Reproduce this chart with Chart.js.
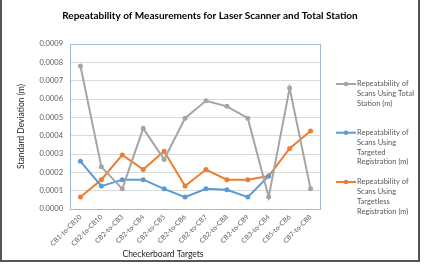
<!DOCTYPE html>
<html>
<head>
<meta charset="utf-8">
<title>Repeatability of Measurements</title>
<script src="https://cdn.jsdelivr.net/npm/chart.js"></script>
<style>
  body { margin: 0; background: #fff; }
  #wrap { position: relative; width: 425px; height: 265px; }
  #frame {
    position: absolute; left: 0; top: -2px;
    width: 416px; height: 262px;
    border: 2px solid #555; border-top: none;
    pointer-events: none;
  }
</style>
</head>
<body>
<div id="wrap">
  <canvas id="chart" width="425" height="265"></canvas>
  <div id="frame"></div>
</div>
<script>
// Checkerboard target pairs (x axis)
const categories = [
  "CB1-to-CB10", "CB2-to-CB10", "CB2-to-CB3", "CB2-to-CB4", "CB2-to-CB5", "CB2-to-CB6",
  "CB2-to-CB7", "CB2-to-CB8", "CB2-to-CB9", "CB3-to-CB4", "CB5-to-CB6", "CB7-to-CB8"
];

// Standard deviation values (m)
const totalStation = [0.00078, 0.00023, 0.00011, 0.00044, 0.00027, 0.000495, 0.00059, 0.00056, 0.000495, 0.000065, 0.00066, 0.00011];
const targeted = [0.00026, 0.000125, 0.00016, 0.00016, 0.00011, 0.000065, 0.00011, 0.000105, 0.000065, 0.00018, null, null];
const targetless = [0.000065, 0.00016, 0.000295, 0.000215, 0.000315, 0.000125, 0.000215, 0.00016, 0.00016, 0.00018, 0.00033, 0.000425];

// Legend names, split the way the legend wraps them
const seriesNames = [
  ["Repeatability of", "Scans Using Total", "Station (m)"],
  ["Repeatability of", "Scans Using", "Targeted", "Registration (m)"],
  ["Repeatability of", "Scans Using", "Targetless", "Registration (m)"]
];
const seriesColors = ["#A5A5A5", "#5B9BD5", "#ED7D31"];

// Y axis tick values
const yTicks = [0, 0.0001, 0.0002, 0.0003, 0.0004, 0.0005, 0.0006, 0.0007, 0.0008, 0.0009];

const chartTitle = "Repeatability of Measurements for Laser Scanner and Total Station";
const yTitle = "Standard Deviation (m)";
const xTitle = "Checkerboard Targets";

const FONT = "Lato, 'Open Sans', sans-serif";

function makeDataset(i, values) {
  return {
    label: seriesNames[i].join(" "),
    data: values,
    borderColor: seriesColors[i],
    backgroundColor: seriesColors[i],
    borderWidth: 2,
    pointRadius: 2.5,
    pointBorderWidth: 0,
    pointHoverRadius: 2.5,
    tension: 0,
    spanGaps: false
  };
}

// Draws the title, axis titles, plot border and the wrapped legend
const decor = {
  id: "decor",
  beforeDatasetsDraw(chart) {
    const { ctx, chartArea: a } = chart;
    ctx.save();
    ctx.strokeStyle = "#9BBBD9";
    ctx.lineWidth = 1;
    ctx.strokeRect(a.left + 0.5, a.top + 0.5, a.right - a.left - 1, a.bottom - a.top);
    ctx.restore();
  },
  afterDraw(chart) {
    const { ctx } = chart;
    ctx.save();

    // chart title
    ctx.fillStyle = "#000";
    ctx.font = "bold 10px " + FONT;
    ctx.textAlign = "center";
    ctx.textBaseline = "middle";
    ctx.fillText(chartTitle, 210, 15.5);

    // x axis title
    ctx.font = "8.5px " + FONT;
    ctx.fillStyle = "#262626";
    ctx.fillText(xTitle, 163, 254.5);

    // y axis title
    ctx.save();
    ctx.translate(21, 126.5);
    ctx.rotate(-Math.PI / 2);
    ctx.fillText(yTitle, 0, 0);
    ctx.restore();

    // legend
    const tops = [84, 132.7, 182];
    ctx.font = "7.5px " + FONT;
    ctx.textAlign = "left";
    chart.data.datasets.forEach((ds, i) => {
      const y = tops[i];
      ctx.strokeStyle = ds.borderColor;
      ctx.lineWidth = 2;
      ctx.beginPath();
      ctx.moveTo(336, y);
      ctx.lineTo(356, y);
      ctx.stroke();
      ctx.fillStyle = ds.borderColor;
      ctx.beginPath();
      ctx.arc(346, y, 2.3, 0, Math.PI * 2);
      ctx.fill();
      ctx.fillStyle = "#595959";
      seriesNames[i].forEach((line, j) => {
        ctx.fillText(line, 357, y + j * 9.7);
      });
    });
    ctx.restore();
  }
};

new Chart(document.getElementById("chart"), {
  type: "line",
  data: {
    labels: categories,
    datasets: [
      makeDataset(0, totalStation),
      makeDataset(1, targeted),
      makeDataset(2, targetless)
    ]
  },
  options: {
    responsive: false,
    animation: false,
    events: [],
    layout: { padding: { top: 44, right: 104, bottom: 0, left: 0 } },
    plugins: {
      legend: { display: false },
      title: { display: false },
      tooltip: { enabled: false }
    },
    scales: {
      x: {
        offset: true,
        grid: { display: false, drawTicks: false },
        border: { display: false },
        ticks: {
          minRotation: 45,
          maxRotation: 45,
          autoSkip: false,
          padding: 4,
          color: "#595959",
          font: { family: FONT, size: 6.8 }
        },
        afterFit: (s) => { s.height = 56; }
      },
      y: {
        min: 0,
        max: 0.0009,
        grid: { color: "#D9D9D9", lineWidth: 1, drawTicks: false },
        border: { display: false },
        afterBuildTicks: (s) => { s.ticks = yTicks.map((v) => ({ value: v })); },
        ticks: {
          padding: 7,
          color: "#595959",
          font: { family: FONT, size: 7.5 },
          callback: (v) => Number(v).toFixed(4)
        },
        afterFit: (s) => { s.width = 70; }
      }
    }
  },
  plugins: [decor]
});
</script>
</body>
</html>
